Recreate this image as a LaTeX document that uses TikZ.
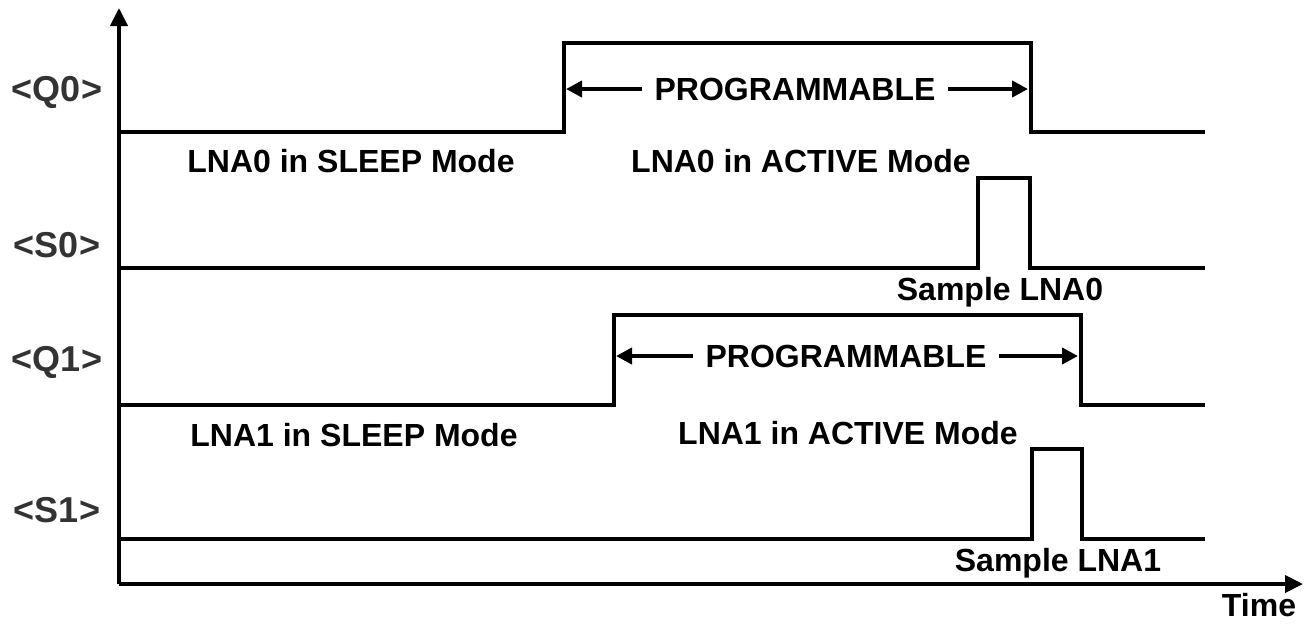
\documentclass[tikz,border=0pt]{standalone}
\usepackage{fontspec}
\setmainfont{Liberation Sans}
\usetikzlibrary{arrows.meta}
\newcommand{\WaveStart}{119}
\newcommand{\WaveEnd}{1205}
% low level, high level, rising edge, falling edge
\newcommand{\Pulse}[4]{%
(\WaveStart,#1) -- (#3,#1) -- (#3,#2) -- %
(#4,#2) -- (#4,#1) -- (\WaveEnd,#1) %
}
\tikzset{
  sig/.style={line width=2pt, line join=miter},
  axis/.style={line width=2pt, -{Triangle[length=9pt,width=8.5pt]}},
  span/.style={line width=2pt, -{Triangle[length=8pt,width=8pt]}},
  txt/.style={font=\bfseries\fontsize{16}{18}\selectfont, inner sep=0pt},
  lbl/.style={font=\bfseries\fontsize{18}{20}\selectfont, text=black!80, inner sep=0pt},
  prog/.style={txt, inner xsep=6pt}
}

\begin{document}
\begin{tikzpicture}[x=0.5pt, y=-0.5pt]
    \useasboundingbox (0,0) rectangle (1311,623);
    % axes
    \coordinate (origin) at (119,584);
    \coordinate (ytip) at (119,8);
    \coordinate (xtip) at (1303,584);
    \draw[axis] (origin) -- (ytip);
    \draw[axis] (origin) -- (xtip);
    \node[txt] (time) at (1259,605) {Time};
    % signal names
    \node[lbl] (q0) at (57,92) {<Q0>};
    \node[lbl] (s0) at (57,245) {<S0>};
    \node[lbl] (q1) at (57,362) {<Q1>};
    \node[lbl] (s1) at (57,510) {<S1>};
    % waveforms
    \draw[sig] \Pulse{132}{43}{564}{1031};
    \draw[sig] \Pulse{268}{178}{978}{1030};
    \draw[sig] \Pulse{405}{315}{614}{1081};
    \draw[sig] \Pulse{539}{449}{1032}{1082};
    % programmable spans
    \node[prog] (prog0) at (795,89) {PROGRAMMABLE};
    \coordinate (p0l) at (566,89);
    \coordinate (p0r) at (1028,89);
    \draw[span] (prog0) -- (p0l);
    \draw[span] (prog0) -- (p0r);
    \node[prog] (prog1) at (846,356) {PROGRAMMABLE};
    \coordinate (p1l) at (616,356);
    \coordinate (p1r) at (1078,356);
    \draw[span] (prog1) -- (p1l);
    \draw[span] (prog1) -- (p1r);
    % states
    \node[txt] (sleep0) at (351,161) {LNA0 in SLEEP Mode};
    \node[txt] (active0) at (801,161) {LNA0 in ACTIVE Mode};
    \node[txt] (samp0) at (1000,292) {Sample LNA0};
    \node[txt] (sleep1) at (354,435) {LNA1 in SLEEP Mode};
    \node[txt] (active1) at (848,433) {LNA1 in ACTIVE Mode};
    \node[txt] (samp1) at (1058,563) {Sample LNA1};
  \end{tikzpicture}
\end{document}
